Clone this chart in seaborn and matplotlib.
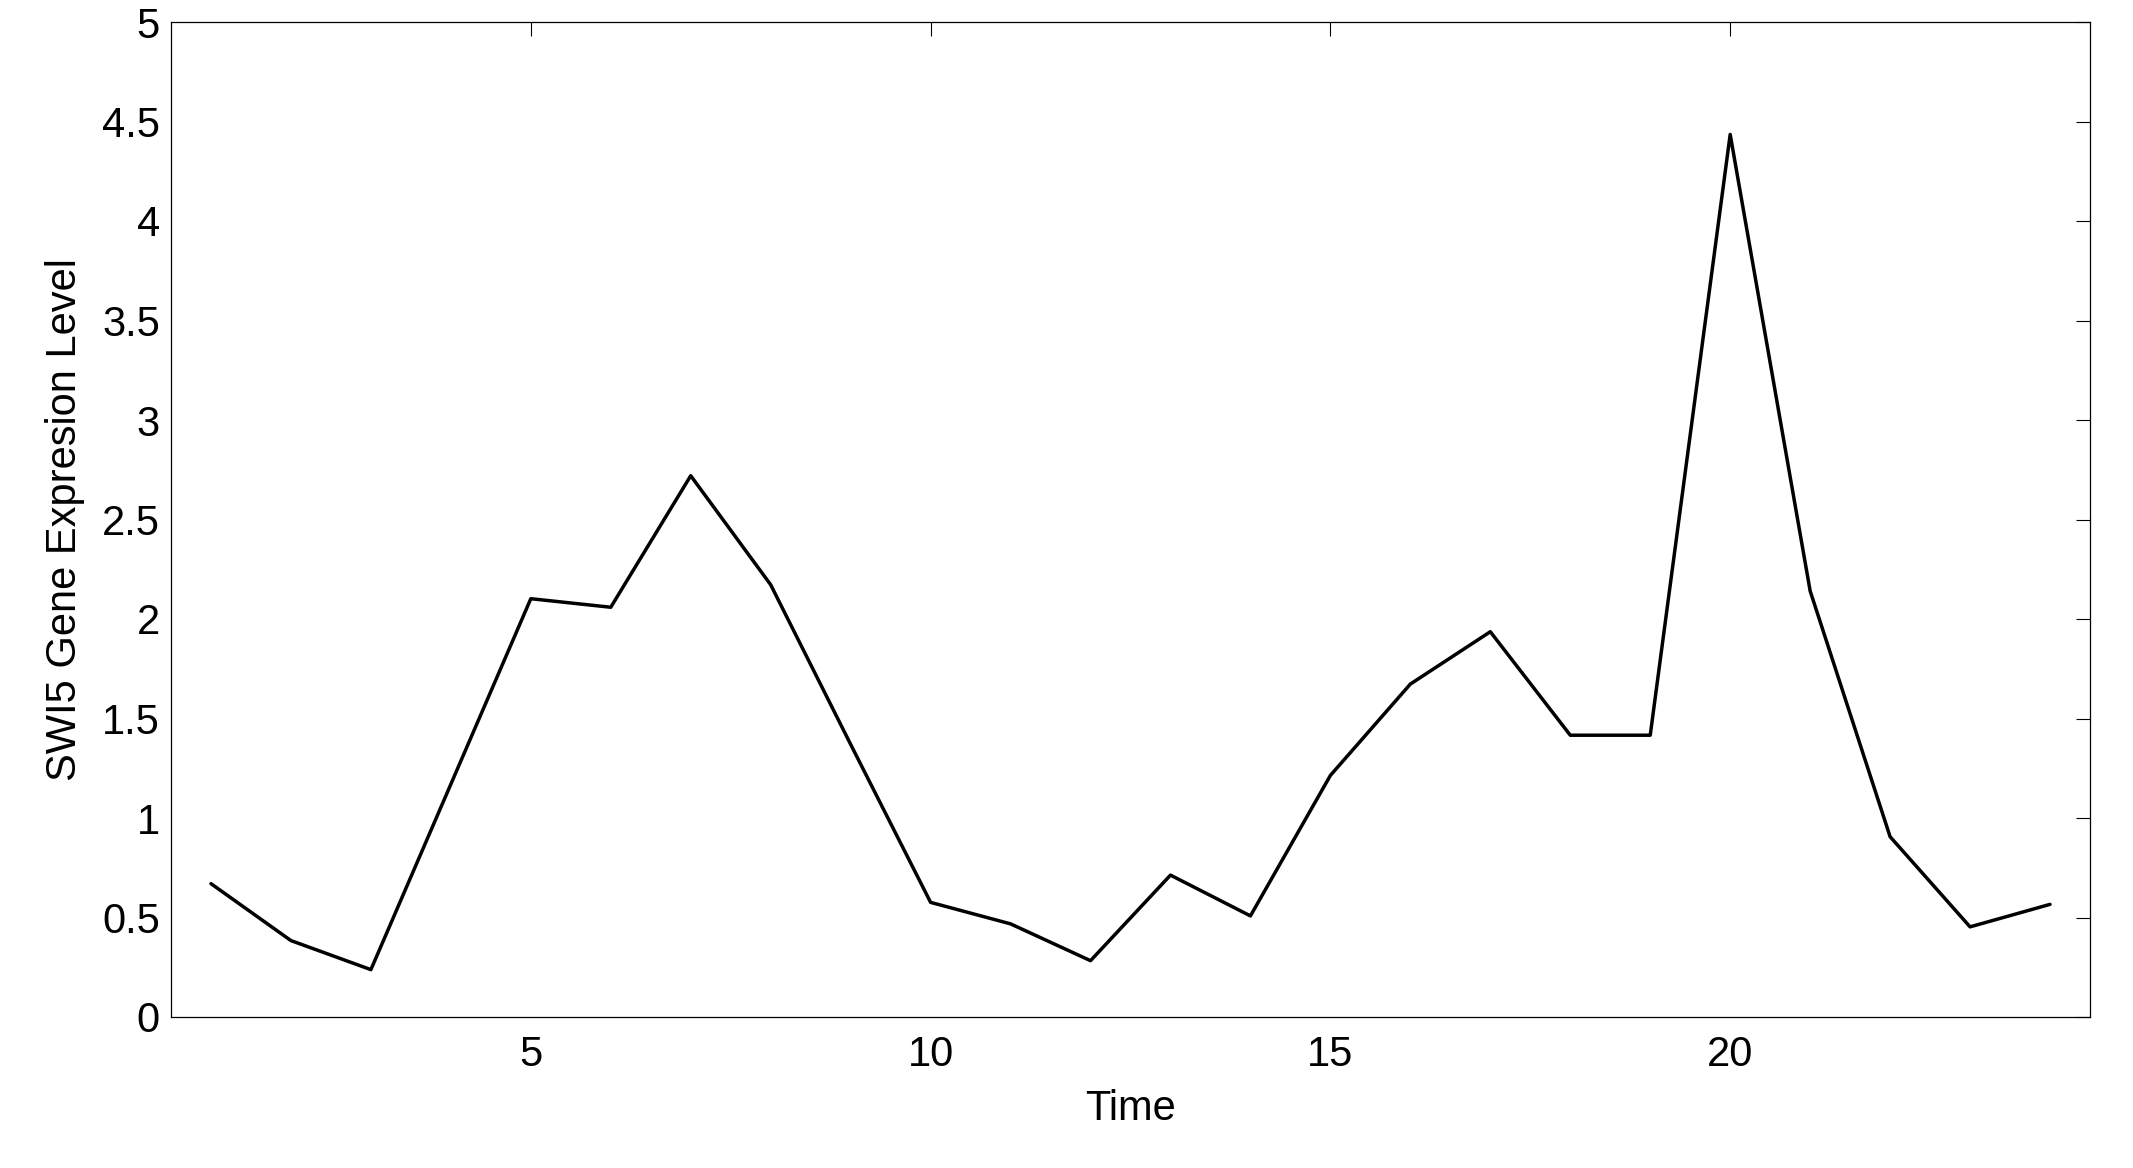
import matplotlib
matplotlib.use("Agg")
import matplotlib.pyplot as plt
import seaborn as sns
import pandas as pd

time = list(range(1, 25))
swi5 = [0.670, 0.384, 0.238, 1.17, 2.102, 2.059, 2.72, 2.172, 1.37, 0.576,
        0.468, 0.283, 0.713, 0.508, 1.214, 1.673, 1.936, 1.416, 1.416, 4.435,
        2.141, 0.906, 0.453, 0.566]
xticks = [5, 10, 15, 20]
yticks = [0, 0.5, 1, 1.5, 2, 2.5, 3, 3.5, 4, 4.5, 5]
ytick_labels = ["0", "0.5", "1", "1.5", "2", "2.5", "3", "3.5", "4", "4.5", "5"]

sns.set_style("white")
plt.rcParams['font.family'] = ['Liberation Sans', 'DejaVu Sans']

df = pd.DataFrame({"Time": time, "SWI5": swi5})

fig = plt.figure(figsize=(21.33, 11.68), dpi=100)
ax = fig.add_axes([171/2133, 1 - 1017/1168, (2090-171)/2133, (1017-22)/1168])
sns.lineplot(data=df, x="Time", y="SWI5", ax=ax, color="black", linewidth=2.5)

ax.set_xlim(0.5, 24.5)
ax.set_ylim(0, 5)
ax.set_xticks(xticks)
ax.set_xticklabels([str(t) for t in xticks])
ax.set_yticks(yticks)
ax.set_yticklabels(ytick_labels)
ax.tick_params(axis='both', direction='in', length=10, width=0.8, color='black',
               labelsize=30, top=True, right=True, labelcolor='black')
ax.tick_params(axis='x', pad=13)
ax.tick_params(axis='y', pad=8)
for s in ax.spines.values():
    s.set_visible(True)
    s.set_color('black')
    s.set_linewidth(0.9)
ax.set_xlabel("Time", fontsize=30, labelpad=10, color='black')
ax.set_ylabel("SWI5 Gene Expresion Level", fontsize=30, labelpad=12, color='black')
ax.grid(False)

fig.savefig("out.png", dpi=100, facecolor="white")
